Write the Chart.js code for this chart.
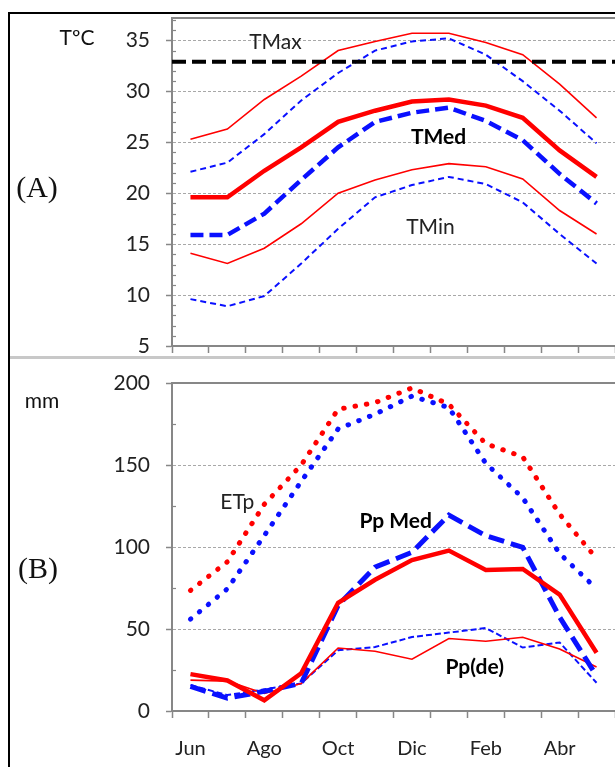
<!DOCTYPE html>
<html>
<head>
<meta charset="utf-8">
<script src="https://cdn.jsdelivr.net/npm/chart.js@4.4.0/dist/chart.umd.min.js"></script>
<style>
  body { margin: 0; background: #fff; width: 615px; height: 767px; overflow: hidden; position: relative; font-family: Lato, sans-serif; }
  #frame { position: absolute; left: 8px; top: 12px; width: 640px; height: 800px; border-left: 2px solid #000; border-top: 2px solid #000; }
  #sep { position: absolute; left: 10px; top: 356px; width: 605px; height: 3px; background: #c8c8c8; }
  canvas { position: absolute; left: 0; }
  #chartA { top: 0; }
  #chartB { top: 358px; }
  .lbl { position: absolute; transform: translate(-50%, -50%); white-space: nowrap; color: #111; }
  .serif { font-family: "Liberation Serif", "DejaVu Serif", serif; font-size: 30px; }
  .unit { font-family: Lato, sans-serif; font-size: 21px !important; }
</style>
</head>
<body>
<div id="frame"></div>
<div id="sep"></div>
<canvas id="chartA" width="615" height="358"></canvas>
<canvas id="chartB" width="615" height="409"></canvas>
<div class="lbl serif" style="left:37px; top:187px;">(A)</div>
<div class="lbl serif" style="left:38px; top:568px;">(B)</div>
<div class="lbl unit" style="left:77px; top:36px;">TºC</div>
<div class="lbl unit" style="left:42px; top:399px; font-size:22px;">mm</div>
<script>
const months = ['Jun', 'Jul', 'Ago', 'Sep', 'Oct', 'Nov', 'Dic', 'Ene', 'Feb', 'Mar', 'Abr', 'May'];
const shownMonths = ['Jun', 'Ago', 'Oct', 'Dic', 'Feb', 'Abr'];

// (A) temperaturas ºC
const tMaxRed = [25.3, 26.3, 29.2, 31.5, 34.0, 34.9, 35.7, 35.7, 34.8, 33.6, 30.7, 27.4];
const tMaxBlue = [22.1, 23.0, 25.8, 29.1, 31.8, 34.0, 34.9, 35.2, 33.6, 31.0, 28.1, 24.9];
const tMedRed = [19.6, 19.6, 22.2, 24.5, 27.0, 28.1, 29.0, 29.2, 28.6, 27.4, 24.2, 21.6];
const tMedBlue = [15.9, 15.9, 18.0, 21.3, 24.5, 27.0, 27.9, 28.4, 27.1, 25.2, 21.9, 19.0];
const tMinRed = [14.1, 13.1, 14.6, 17.0, 20.0, 21.3, 22.3, 22.9, 22.6, 21.4, 18.3, 16.0];
const tMinBlue = [9.6, 8.9, 9.9, 13.1, 16.5, 19.6, 20.8, 21.6, 20.9, 19.1, 16.0, 13.1];
const tMaxLimit = 32.9;

// (B) precipitacion y ETp, mm
const etpRed = [73.5, 91, 126, 150, 184, 188, 197, 187, 163, 155, 120, 93];
const etpBlue = [56, 74.5, 107, 140, 172, 181, 192, 185, 151, 130, 96, 74.5];
const ppMedRed = [22.5, 18.6, 6.5, 23, 66, 80, 92, 97.8, 86, 86.6, 71, 35.5];
const ppMedBlue = [15, 7.8, 12, 16.9, 64.4, 87.7, 96.8, 119.4, 106.9, 99.8, 57.3, 21.4];
const ppDeRed = [18.8, 18.2, 10.7, 16.8, 38.4, 36.4, 31.6, 44.2, 42.5, 45, 37.8, 26.8];
const ppDeBlue = [15.8, 9.7, 13.2, 16.8, 37, 39, 45.1, 47.8, 50.6, 38.7, 41.8, 17.2];

const RED = '#ff0000';
const BLUE = '#0a10ff';
const AXIS = '#878787';
const GRID = '#a8a8a8';
const TXT = '#222';

Chart.defaults.font.family = 'Lato, sans-serif';

function lineSet(data, color, width, dash, cap) {
    return {
        data: data,
        borderColor: color,
        borderWidth: width,
        borderDash: dash || [],
        borderCapStyle: cap || 'butt',
        pointRadius: 0,
        tension: 0,
        fill: false,
    };
}

// frame top line, minor ticks, threshold line and texts
const panelExtras = {
    id: 'panelExtras',
    afterDatasetsDraw(chart, args, opts) {
        const ctx = chart.ctx;
        const area = chart.chartArea;
        const x = chart.scales.x;
        const y = chart.scales.y;
        ctx.save();
        ctx.strokeStyle = AXIS;
        ctx.lineWidth = 2;
        ctx.beginPath();
        ctx.moveTo(area.left, area.top);
        ctx.lineTo(area.right, area.top);
        ctx.stroke();
        ctx.lineWidth = 1.2;
        for (let v = y.min; v <= y.max; v += opts.minor) {
            if (v % opts.major === 0) continue;
            const py = Math.round(y.getPixelForValue(v)) + 0.5;
            ctx.beginPath();
            ctx.moveTo(area.left, py);
            ctx.lineTo(area.left + 4, py);
            ctx.stroke();
        }
        if (opts.limit !== undefined) {
            const py = y.getPixelForValue(opts.limit);
            ctx.strokeStyle = '#000';
            ctx.lineWidth = 4;
            ctx.setLineDash([14, 6]);
            ctx.beginPath();
            ctx.moveTo(area.left, py);
            ctx.lineTo(area.right, py);
            ctx.stroke();
            ctx.setLineDash([]);
        }
        ctx.textAlign = 'center';
        ctx.textBaseline = 'middle';
        opts.texts.forEach(t => {
            ctx.fillStyle = t.color || TXT;
            ctx.font = (t.bold ? 'bold ' : '') + t.size + 'px Lato, sans-serif';
            ctx.fillText(t.text, x.getPixelForValue(t.at[0]), y.getPixelForValue(t.at[1]));
        });
        ctx.restore();
    },
};

function xScale(showLabels, height, pad) {
    return {
        offset: true,
        grid: { offset: true, drawOnChartArea: false, tickLength: 7, tickColor: AXIS, tickWidth: 1.5 },
        border: { color: AXIS, width: 2 },
        ticks: {
            display: showLabels,
            autoSkip: false,
            maxRotation: 0,
            padding: pad,
            color: TXT,
            font: { size: 20 },
            callback: (v, i) => shownMonths.includes(months[i]) ? months[i] : '',
        },
        afterFit: s => {
            s.height = height;
            s.paddingLeft = 0;
            s.paddingRight = 0;
        },
    };
}

function yScale(min, max, step) {
    return {
        min: min,
        max: max,
        ticks: { stepSize: step, includeBounds: false, padding: 16, color: TXT, font: { size: 21 } },
        grid: {
            color: c => (c.tick && c.tick.value > min && c.tick.value < max - 0.5) ? GRID : 'rgba(0,0,0,0)',
            lineWidth: 1,
            tickLength: 6,
            tickColor: AXIS,
            tickWidth: 1.5,
        },
        border: { color: AXIS, width: 2, dash: [3, 2] },
        afterFit: s => {
            s.width = 172;
            s.paddingTop = 0;
            s.paddingBottom = 0;
        },
    };
}

new Chart(document.getElementById('chartA'), {
    type: 'line',
    data: {
        labels: months,
        datasets: [
            lineSet(tMedRed, RED, 4.5),
            lineSet(tMedBlue, BLUE, 4.5, [13, 6]),
            lineSet(tMaxRed, RED, 1.6),
            lineSet(tMaxBlue, BLUE, 2, [6, 4]),
            lineSet(tMinRed, RED, 1.6),
            lineSet(tMinBlue, BLUE, 2, [6, 4]),
        ],
    },
    options: {
        responsive: false,
        animation: false,
        layout: { padding: { top: 18, right: 0, left: 0, bottom: 0 } },
        plugins: {
            legend: { display: false },
            tooltip: { enabled: false },
            panelExtras: {
                minor: 1,
                major: 5,
                limit: tMaxLimit,
                texts: [
                    { text: 'TMax', at: [2.3, 34.8], size: 21 },
                    { text: 'TMed', at: [6.72, 25.5], size: 21, bold: true, color: '#000' },
                    { text: 'TMin', at: [6.5, 16.7], size: 21 },
                ],
            },
        },
        scales: { x: xScale(false, 12, 0), y: yScale(5, 37.2, 5) },
    },
    plugins: [panelExtras],
});

new Chart(document.getElementById('chartB'), {
    type: 'line',
    data: {
        labels: months,
        datasets: [
            lineSet(ppMedRed, RED, 4.5),
            lineSet(ppMedBlue, BLUE, 5, [16, 7]),
            lineSet(ppDeRed, RED, 1.6),
            lineSet(ppDeBlue, BLUE, 2, [6, 3]),
            lineSet(etpRed, RED, 5, [0.5, 11], 'round'),
            lineSet(etpBlue, BLUE, 5, [0.5, 11], 'round'),
        ],
    },
    options: {
        responsive: false,
        animation: false,
        layout: { padding: { top: 25, right: 0, left: 0, bottom: 0 } },
        plugins: {
            legend: { display: false },
            tooltip: { enabled: false },
            panelExtras: {
                minor: 25,
                major: 50,
                texts: [
                    { text: 'ETp', at: [1.27, 127], size: 21 },
                    { text: 'Pp Med', at: [5.56, 116], size: 21, bold: true, color: '#000' },
                    { text: 'Pp(de)', at: [7.7, 26.8], size: 21, bold: true, color: '#000' },
                ],
            },
        },
        scales: { x: xScale(true, 56, 19), y: yScale(0, 200, 50) },
    },
    plugins: [panelExtras],
});
</script>
</body>
</html>
